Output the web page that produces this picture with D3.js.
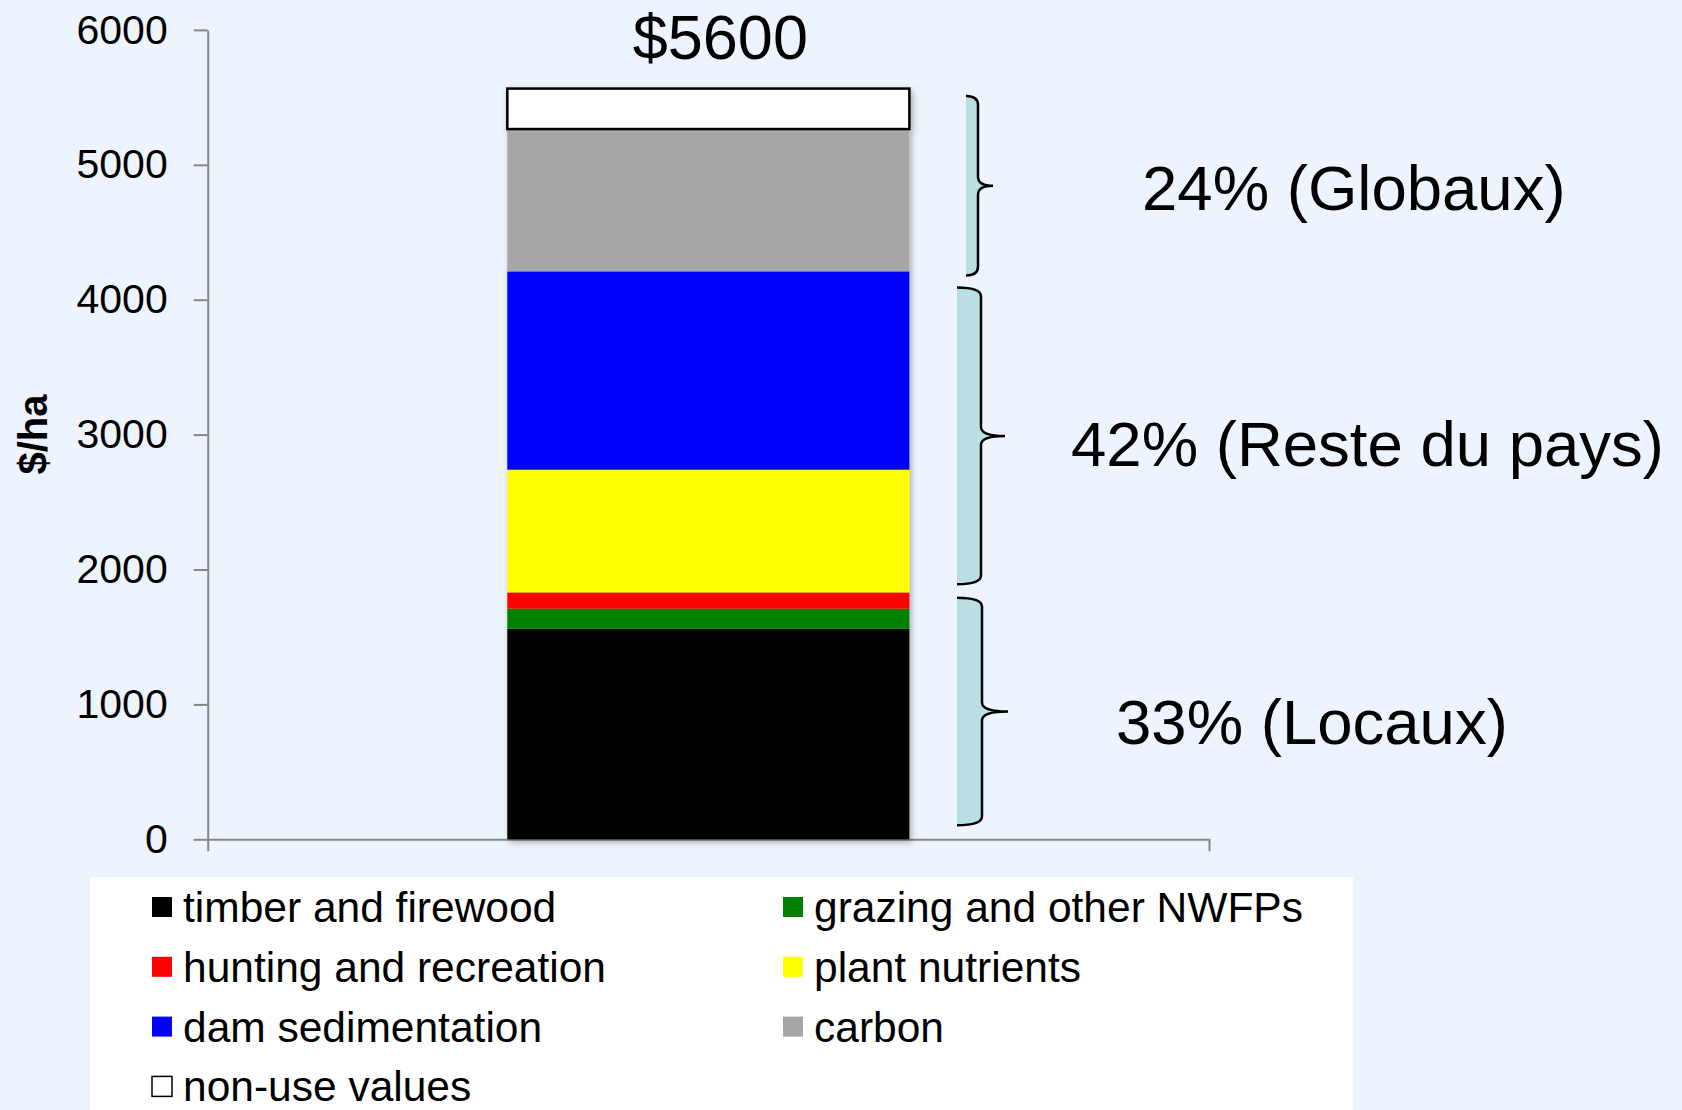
<!DOCTYPE html>
<html>
<head>
<meta charset="utf-8">
<script src="https://cdn.jsdelivr.net/npm/d3@7"></script>
<style>
  body { margin: 0; background: #eef4fd; }
  text { font-family: "Liberation Sans", Arial, sans-serif; fill: #000; }
</style>
</head>
<body>
<div id="chart-container"></div>
<script>
// value components of one hectare of forest, stacked bottom -> top
const categories = ["timber and firewood", "grazing and other NWFPs", "hunting and recreation",
                    "plant nutrients", "dam sedimentation", "carbon", "non-use values"];
const values = [1560, 150, 120, 910, 1470, 1055, 300];
const colors = ["#000000", "#008000", "#ff0000", "#ffff00", "#0000ff", "#a6a6a6", "#ffffff"];
const yTicks = [0, 1000, 2000, 3000, 4000, 5000, 6000];
const totalLabel = "$5600";

// braces on the right (value extents) and their labels
const groupLabels = ["24% (Globaux)", "42% (Reste du pays)", "33% (Locaux)"];
const braceLow = [4180, 1890, 105];
const braceHigh = [5510, 4090, 1790];

const width = 1682;
const height = 1110;

const svg = d3.select("#chart-container")
    .append("svg")
        .attr("width", width)
        .attr("height", height);

svg.append("rect")
    .attr("width", width)
    .attr("height", height)
    .attr("fill", "#eef4fd");

// soft shadow under the bar
const filter = svg.append("defs").append("filter")
    .attr("id", "shadow")
    .attr("x", "-10%").attr("y", "-10%")
    .attr("width", "120%").attr("height", "120%");
filter.append("feDropShadow")
    .attr("dx", 2).attr("dy", 3)
    .attr("stdDeviation", 3)
    .attr("flood-color", "#000")
    .attr("flood-opacity", 0.3);

const y = d3.scaleLinear()
    .domain([0, 6000])
    .range([839.3, 29.9]);

const x = d3.scaleBand()
    .domain(["forest"])
    .range([207.7, 1209])
    .padding(0.427);

// one row, stacked by category
const row = { name: "forest" };
categories.forEach((c, i) => row[c] = values[i]);
const series = d3.stack().keys(categories)([row]);

// axes
const yAxis = svg.append("g")
    .attr("transform", `translate(${x.range()[0]},0)`)
    .call(d3.axisLeft(y)
        .tickValues(yTicks)
        .tickFormat(d3.format("d"))
        .tickSize(14)
        .tickSizeOuter(0)
        .tickPadding(26));

const xAxis = svg.append("g")
    .attr("transform", `translate(0,${y(0)})`)
    .call(d3.axisBottom(x).tickSizeInner(0).tickSizeOuter(12).tickFormat(""));

[yAxis, xAxis].forEach(g => {
    g.selectAll("path, line").attr("stroke", "#878787").attr("stroke-width", 2);
});
yAxis.selectAll("text")
    .style("font-family", "'Liberation Sans', Arial, sans-serif")
    .attr("font-size", 41)
    .attr("fill", "#000");

svg.append("text")
    .attr("transform", `translate(47,${(y(0) + y(6000)) / 2}) rotate(-90)`)
    .attr("text-anchor", "middle")
    .attr("font-size", 40)
    .attr("font-weight", "bold")
    .text("$/ha");

// stacked bar
const bar = svg.append("g").attr("filter", "url(#shadow)");
bar.selectAll("rect")
    .data(series)
    .enter()
    .append("rect")
        .attr("x", x("forest"))
        .attr("width", x.bandwidth())
        .attr("y", d => y(d[0][1]))
        .attr("height", d => y(d[0][0]) - y(d[0][1]))
        .attr("fill", (d, i) => colors[i])
        .attr("stroke", (d, i) => i === categories.length - 1 ? "#000" : "none")
        .attr("stroke-width", 2.5);

const total = d3.sum(values);
svg.append("text")
    .attr("x", x("forest") + x.bandwidth() / 2 + 12)
    .attr("y", y(total) - 30)
    .attr("text-anchor", "middle")
    .attr("font-size", 63)
    .text(totalLabel);

// curly braces
const braceGeom = [
    { xl: 966, xline: 978, xtip: 993, labelX: 1142, dy: 24 },
    { xl: 957, xline: 981, xtip: 1005, labelX: 1071, dy: 30 },
    { xl: 957, xline: 982, xtip: 1008, labelX: 1116, dy: 33 }
];

function bracePath(g, top, bot, closed) {
    const mid = (top + bot) / 2, r = 9;
    let p = `M${g.xl},${top} Q${g.xline},${top} ${g.xline},${top + r}` +
            ` L${g.xline},${mid - r} Q${g.xline},${mid} ${g.xtip},${mid}` +
            ` Q${g.xline},${mid} ${g.xline},${mid + r}` +
            ` L${g.xline},${bot - r} Q${g.xline},${bot} ${g.xl},${bot}`;
    return closed ? p + " Z" : p;
}

const braces = svg.selectAll("g.brace")
    .data(groupLabels)
    .enter()
    .append("g")
        .attr("class", "brace");

braces.append("path")
    .attr("d", (d, i) => bracePath(braceGeom[i], y(braceHigh[i]), y(braceLow[i]), true))
    .attr("fill", "#b9dfe2")
    .attr("stroke", "none");

braces.append("path")
    .attr("d", (d, i) => bracePath(braceGeom[i], y(braceHigh[i]), y(braceLow[i]), false))
    .attr("fill", "none")
    .attr("stroke", "#000")
    .attr("stroke-width", 2.5);

braces.append("text")
    .attr("x", (d, i) => braceGeom[i].labelX)
    .attr("y", (d, i) => (y(braceHigh[i]) + y(braceLow[i])) / 2 + braceGeom[i].dy)
    .attr("font-size", 63.5)
    .text(d => d);

// legend
svg.append("rect")
    .attr("x", 90)
    .attr("y", 877)
    .attr("width", 1263)
    .attr("height", 240)
    .attr("fill", "#ffffff");

const legend = svg.selectAll("g.legend")
    .data(categories)
    .enter()
    .append("g")
        .attr("class", "legend")
        .attr("transform", (d, i) => `translate(${i % 2 ? 783 : 152},${907 + Math.floor(i / 2) * 59.8})`);

legend.append("rect")
    .attr("x", 0)
    .attr("y", -10)
    .attr("width", 20)
    .attr("height", 20)
    .attr("fill", (d, i) => colors[i])
    .attr("stroke", (d, i) => colors[i] === "#ffffff" ? "#000" : "none")
    .attr("stroke-width", 1.5);

legend.append("text")
    .attr("x", 31)
    .attr("y", 15)
    .attr("font-size", 42.5)
    .text(d => d);
</script>
</body>
</html>
